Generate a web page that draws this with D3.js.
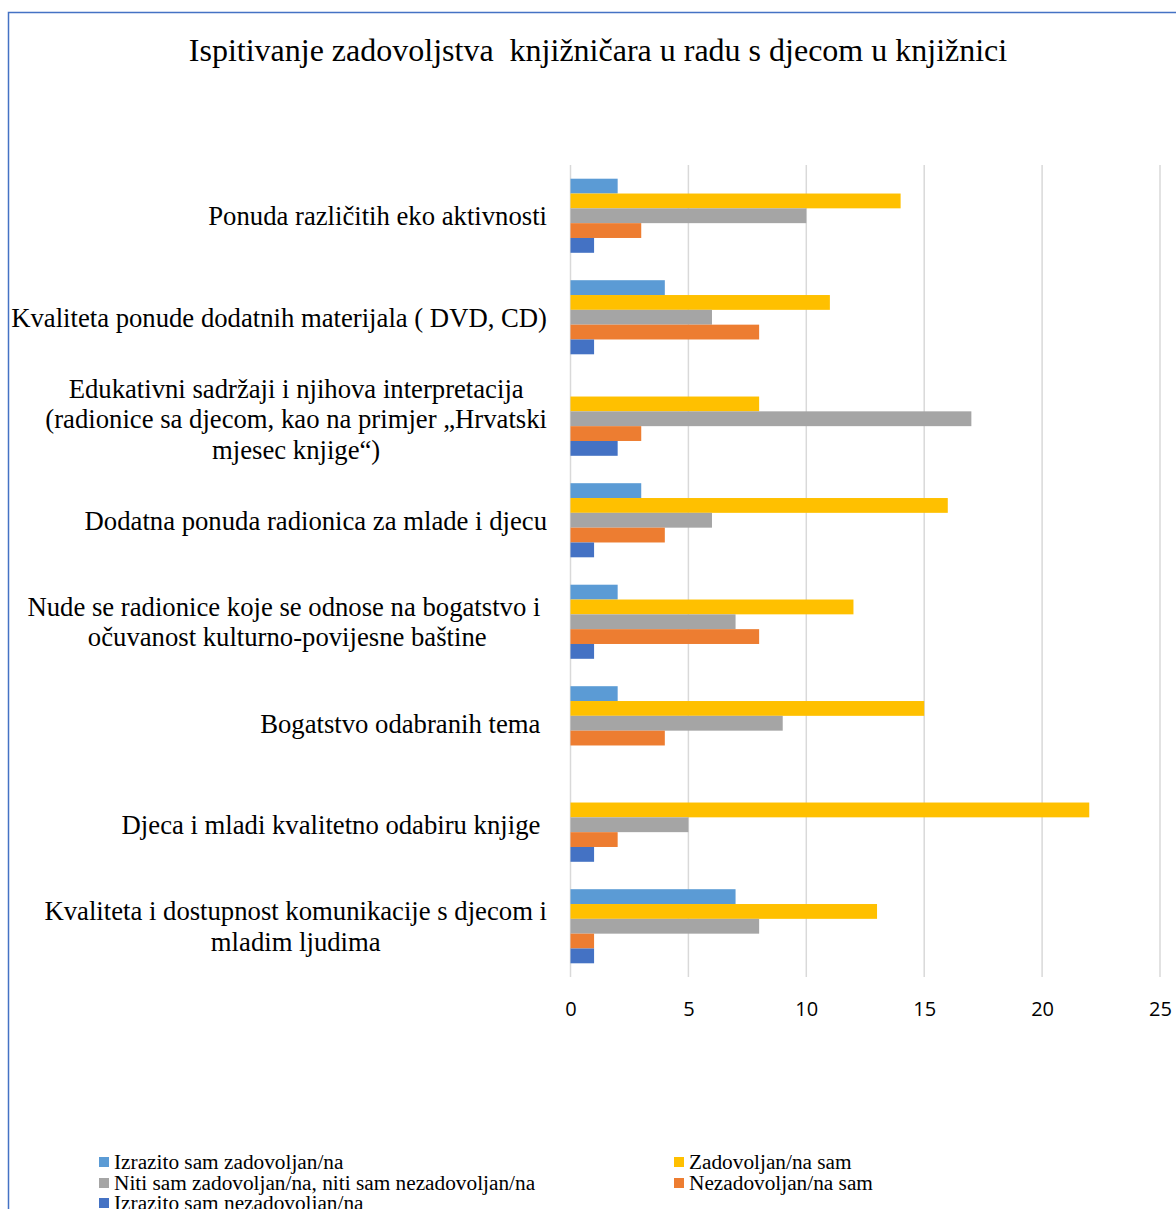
<!DOCTYPE html>
<html>
<head>
<meta charset="utf-8">
<script src="https://cdn.jsdelivr.net/npm/d3@7"></script>
<style>
  html, body { margin: 0; padding: 0; background: #fff; }
  svg { display: block; }
  text { white-space: pre; }
</style>
</head>
<body>
<svg id="chart" width="1176" height="1209"></svg>
<script>
const title = "Ispitivanje zadovoljstva  knjižničara u radu s djecom u knjižnici";

const categories = [
  "Ponuda različitih eko aktivnosti",
  "Kvaliteta ponude dodatnih materijala ( DVD, CD)",
  "Edukativni sadržaji i njihova interpretacija\n(radionice sa djecom, kao na primjer „Hrvatski\nmjesec knjige“)",
  "Dodatna ponuda radionica za mlade i djecu",
  "Nude se radionice koje se odnose na bogatstvo i \nočuvanost kulturno-povijesne baštine",
  "Bogatstvo odabranih tema ",
  "Djeca i mladi kvalitetno odabiru knjige ",
  "Kvaliteta i dostupnost komunikacije s djecom i\nmladim ljudima"
];

const seriesNames = [
  "Izrazito sam zadovoljan/na",
  "Zadovoljan/na sam",
  "Niti sam zadovoljan/na, niti sam nezadovoljan/na",
  "Nezadovoljan/na sam",
  "Izrazito sam nezadovoljan/na"
];

const seriesColors = ["#5B9BD5", "#FFC000", "#A5A5A5", "#ED7D31", "#4472C4"];

// values per series, in category order
const izrazitoZadovoljan   = [2, 4, 0, 3, 2, 2, 0, 7];
const zadovoljan           = [14, 11, 8, 16, 12, 15, 22, 13];
const nitiNiti             = [10, 6, 17, 6, 7, 9, 5, 8];
const nezadovoljan         = [3, 8, 3, 4, 8, 4, 2, 1];
const izrazitoNezadovoljan = [1, 1, 2, 1, 1, 0, 1, 1];

const seriesValues = [izrazitoZadovoljan, zadovoljan, nitiNiti, nezadovoljan, izrazitoNezadovoljan];

const xTicks = [0, 5, 10, 15, 20, 25];

const svg = d3.select("#chart");

// outer border (left/top visible)
svg.append("rect")
  .attr("x", 8.5).attr("y", 12.5)
  .attr("width", 1300).attr("height", 1300)
  .attr("fill", "none")
  .attr("stroke", "#4472C4")
  .attr("stroke-width", 1.5);

// title
svg.append("text")
  .attr("x", 598).attr("y", 61)
  .attr("text-anchor", "middle")
  .attr("font-family", "'Liberation Serif', 'Times New Roman', serif")
  .attr("font-size", 32)
  .attr("fill", "#000")
  .text(title);

const plotLeft = 570.5, plotRight = 1160, plotTop = 165, plotBottom = 977;

const x = d3.scaleLinear().domain([0, 25]).range([plotLeft, plotRight]);
const y = d3.scaleBand().domain(categories).range([plotTop, plotBottom])
  .paddingInner(0.27).paddingOuter(0.135);
const ySub = d3.scaleBand().domain(d3.range(seriesNames.length)).range([0, y.bandwidth()]);

// gridlines
svg.append("g")
  .selectAll("line")
  .data(xTicks)
  .join("line")
  .attr("x1", d => x(d)).attr("x2", d => x(d))
  .attr("y1", plotTop).attr("y2", plotBottom)
  .attr("stroke", "#D9D9D9")
  .attr("stroke-width", 1.5);

// bars
const groups = svg.append("g")
  .selectAll("g")
  .data(categories)
  .join("g")
  .attr("transform", d => `translate(0,${y(d)})`);

groups.selectAll("rect")
  .data((d, i) => seriesValues.map((vals, s) => ({ s, v: vals[i] })))
  .join("rect")
  .filter(d => d.v > 0)
  .attr("x", x(0))
  .attr("y", d => ySub(d.s))
  .attr("width", d => x(d.v) - x(0))
  .attr("height", ySub.bandwidth())
  .attr("fill", d => seriesColors[d.s]);

// x axis tick labels
const xAxis = d3.axisBottom(x).tickValues(xTicks).tickSize(0).tickPadding(0);
const gx = svg.append("g")
  .attr("transform", `translate(0,${plotBottom})`)
  .call(xAxis);
gx.select(".domain").remove();
gx.selectAll("text")
  .attr("y", 39)
  .attr("dy", null)
  .attr("font-family", "'Open Sans', 'Noto Sans', sans-serif")
  .attr("font-size", 20)
  .attr("fill", "#000");

// category labels
const labelRight = 547;
const lineH = 30.5;
const labelG = svg.append("g")
  .attr("font-family", "'Liberation Serif', 'Times New Roman', serif")
  .attr("font-size", 26.7)
  .attr("fill", "#000");

categories.forEach(cat => {
  const lines = cat.split("\n");
  const cy = y(cat) + y.bandwidth() / 2;
  const t = labelG.append("text")
    .attr("text-anchor", "middle")
    .attr("xml:space", "preserve");
  const tspans = lines.map((ln, i) =>
    t.append("tspan")
      .attr("y", cy + (i - (lines.length - 1) / 2) * lineH)
      .attr("dy", "0.35em")
      .text(ln));
  const maxW = d3.max(tspans, ts => ts.node().getComputedTextLength());
  tspans.forEach(ts => ts.attr("x", labelRight - maxW / 2));
});

// legend
const legendPos = [
  { x: 99, y: 1162 },
  { x: 674, y: 1162 },
  { x: 99, y: 1183 },
  { x: 674, y: 1183 },
  { x: 99, y: 1203 }
];
const legend = svg.append("g")
  .selectAll("g")
  .data(seriesNames)
  .join("g")
  .attr("transform", (d, i) => `translate(${legendPos[i].x},${legendPos[i].y})`);
legend.append("rect")
  .attr("x", 0).attr("y", -5)
  .attr("width", 10).attr("height", 10)
  .attr("fill", (d, i) => seriesColors[i]);
legend.append("text")
  .attr("x", 15).attr("y", 0)
  .attr("dy", "0.35em")
  .attr("font-family", "'Liberation Serif', 'Times New Roman', serif")
  .attr("font-size", 21.3)
  .attr("fill", "#000")
  .text(d => d);
</script>
</body>
</html>
